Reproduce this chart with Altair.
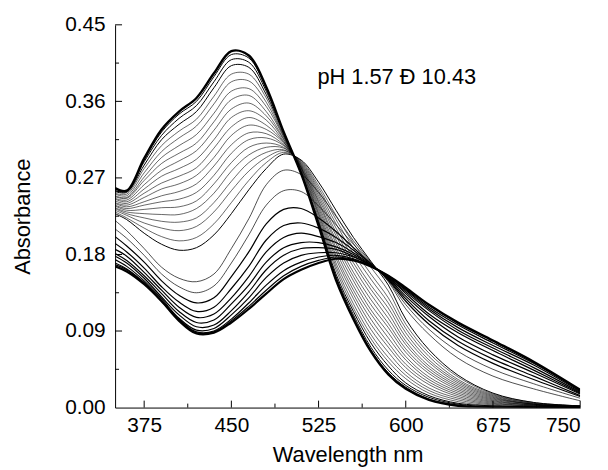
import altair as alt
import pandas as pd

# ---------------- data ----------------
WAVELENGTH = [350, 360, 375, 390, 405, 420, 435, 450, 465, 480, 495, 510,
              525, 540, 555, 570, 585, 600, 620, 645, 675, 710, 750]

# first transition (pH 1.57 ... intermediate)
PH_LOW = [0.258, 0.255, 0.293, 0.327, 0.348, 0.364, 0.393, 0.419, 0.414, 0.377, 0.324, 0.275, 0.214, 0.150, 0.104, 0.066, 0.039, 0.022, 0.009, 0.002, 0.000, 0.000, 0.000]
T01 = [0.255, 0.255, 0.291, 0.324, 0.345, 0.360, 0.389, 0.415, 0.411, 0.375, 0.324, 0.275, 0.215, 0.152, 0.106, 0.068, 0.041, 0.024, 0.010, 0.003, 0.000, 0.000, 0.000]
T02 = [0.255, 0.254, 0.289, 0.320, 0.340, 0.355, 0.383, 0.409, 0.406, 0.372, 0.323, 0.276, 0.217, 0.154, 0.109, 0.071, 0.044, 0.026, 0.012, 0.004, 0.001, 0.000, 0.000]
T03 = [0.254, 0.253, 0.285, 0.315, 0.333, 0.348, 0.376, 0.402, 0.400, 0.368, 0.322, 0.276, 0.219, 0.157, 0.113, 0.076, 0.049, 0.029, 0.014, 0.005, 0.002, 0.001, 0.000]
T04 = [0.252, 0.251, 0.281, 0.308, 0.325, 0.339, 0.366, 0.392, 0.392, 0.364, 0.320, 0.277, 0.221, 0.162, 0.117, 0.081, 0.054, 0.034, 0.017, 0.007, 0.002, 0.001, 0.000]
T05 = [0.251, 0.249, 0.276, 0.301, 0.317, 0.331, 0.357, 0.383, 0.384, 0.359, 0.319, 0.278, 0.224, 0.166, 0.122, 0.086, 0.059, 0.038, 0.020, 0.009, 0.003, 0.001, 0.000]
T06 = [0.249, 0.247, 0.271, 0.294, 0.308, 0.321, 0.346, 0.372, 0.375, 0.354, 0.318, 0.279, 0.227, 0.170, 0.128, 0.092, 0.065, 0.042, 0.023, 0.011, 0.004, 0.002, 0.001]
T07 = [0.248, 0.246, 0.267, 0.287, 0.299, 0.311, 0.336, 0.362, 0.367, 0.348, 0.316, 0.280, 0.229, 0.175, 0.133, 0.098, 0.071, 0.047, 0.027, 0.013, 0.005, 0.002, 0.001]
T08 = [0.246, 0.244, 0.262, 0.279, 0.290, 0.302, 0.326, 0.351, 0.358, 0.343, 0.315, 0.281, 0.232, 0.179, 0.138, 0.104, 0.076, 0.051, 0.030, 0.015, 0.006, 0.002, 0.001]
T09 = [0.245, 0.242, 0.257, 0.272, 0.281, 0.292, 0.315, 0.341, 0.349, 0.338, 0.313, 0.282, 0.235, 0.184, 0.143, 0.110, 0.082, 0.056, 0.033, 0.017, 0.007, 0.003, 0.001]
T10 = [0.243, 0.240, 0.252, 0.264, 0.272, 0.282, 0.305, 0.330, 0.341, 0.332, 0.312, 0.282, 0.238, 0.188, 0.149, 0.115, 0.088, 0.060, 0.036, 0.019, 0.008, 0.003, 0.001]
T11 = [0.241, 0.238, 0.247, 0.257, 0.263, 0.273, 0.294, 0.320, 0.332, 0.327, 0.311, 0.283, 0.241, 0.193, 0.154, 0.121, 0.094, 0.065, 0.040, 0.021, 0.009, 0.003, 0.001]
T12 = [0.240, 0.236, 0.242, 0.249, 0.254, 0.263, 0.284, 0.309, 0.323, 0.322, 0.309, 0.284, 0.243, 0.197, 0.159, 0.127, 0.099, 0.069, 0.043, 0.023, 0.010, 0.004, 0.001]
T13 = [0.238, 0.234, 0.238, 0.242, 0.245, 0.253, 0.273, 0.299, 0.315, 0.317, 0.308, 0.285, 0.246, 0.202, 0.165, 0.133, 0.105, 0.074, 0.046, 0.025, 0.011, 0.004, 0.001]
T14 = [0.237, 0.232, 0.233, 0.235, 0.236, 0.243, 0.263, 0.288, 0.306, 0.311, 0.306, 0.286, 0.249, 0.206, 0.170, 0.139, 0.111, 0.078, 0.049, 0.027, 0.012, 0.004, 0.001]
T15 = [0.235, 0.230, 0.228, 0.227, 0.227, 0.234, 0.252, 0.278, 0.297, 0.306, 0.305, 0.287, 0.252, 0.211, 0.175, 0.144, 0.117, 0.083, 0.053, 0.029, 0.013, 0.004, 0.002]
T16 = [0.234, 0.228, 0.223, 0.219, 0.218, 0.223, 0.241, 0.266, 0.288, 0.300, 0.303, 0.288, 0.255, 0.216, 0.181, 0.151, 0.123, 0.088, 0.056, 0.031, 0.014, 0.005, 0.002]
T17 = [0.232, 0.226, 0.217, 0.211, 0.208, 0.213, 0.230, 0.255, 0.278, 0.294, 0.302, 0.289, 0.258, 0.221, 0.187, 0.157, 0.129, 0.093, 0.060, 0.033, 0.015, 0.005, 0.002]
T18 = [0.230, 0.223, 0.211, 0.201, 0.196, 0.200, 0.216, 0.241, 0.267, 0.288, 0.300, 0.290, 0.261, 0.226, 0.193, 0.165, 0.137, 0.098, 0.064, 0.036, 0.016, 0.006, 0.002]
PH_MID = [0.228, 0.221, 0.205, 0.192, 0.185, 0.188, 0.203, 0.228, 0.256, 0.281, 0.298, 0.291, 0.265, 0.232, 0.200, 0.172, 0.144, 0.104, 0.068, 0.038, 0.017, 0.006, 0.002]

# second transition (intermediate ... pH 10.43)
U01 = [0.220, 0.208, 0.187, 0.165, 0.152, 0.148, 0.157, 0.187, 0.222, 0.262, 0.279, 0.274, 0.253, 0.225, 0.196, 0.171, 0.148, 0.116, 0.086, 0.058, 0.037, 0.022, 0.008]
U02 = [0.210, 0.199, 0.179, 0.157, 0.142, 0.135, 0.143, 0.170, 0.203, 0.238, 0.255, 0.254, 0.237, 0.215, 0.192, 0.170, 0.149, 0.121, 0.092, 0.066, 0.045, 0.028, 0.011]
U03 = [0.201, 0.190, 0.171, 0.149, 0.132, 0.123, 0.129, 0.154, 0.183, 0.216, 0.233, 0.234, 0.223, 0.207, 0.188, 0.169, 0.150, 0.125, 0.098, 0.073, 0.052, 0.033, 0.013]
U04 = [0.193, 0.183, 0.164, 0.142, 0.124, 0.113, 0.118, 0.140, 0.166, 0.197, 0.214, 0.217, 0.211, 0.200, 0.185, 0.169, 0.151, 0.128, 0.102, 0.078, 0.057, 0.037, 0.014]
U05 = [0.186, 0.178, 0.159, 0.138, 0.118, 0.106, 0.110, 0.129, 0.154, 0.183, 0.200, 0.205, 0.201, 0.194, 0.182, 0.168, 0.152, 0.131, 0.107, 0.083, 0.062, 0.041, 0.016]
U06 = [0.181, 0.173, 0.155, 0.134, 0.113, 0.100, 0.103, 0.122, 0.144, 0.171, 0.188, 0.194, 0.194, 0.189, 0.180, 0.167, 0.153, 0.134, 0.110, 0.088, 0.067, 0.044, 0.017]
U07 = [0.178, 0.170, 0.152, 0.130, 0.109, 0.095, 0.097, 0.114, 0.136, 0.162, 0.179, 0.187, 0.188, 0.186, 0.178, 0.167, 0.153, 0.136, 0.114, 0.091, 0.070, 0.047, 0.018]
U08 = [0.174, 0.166, 0.149, 0.128, 0.105, 0.091, 0.093, 0.109, 0.129, 0.153, 0.170, 0.179, 0.182, 0.182, 0.177, 0.167, 0.154, 0.138, 0.116, 0.094, 0.073, 0.050, 0.019]
U09 = [0.170, 0.163, 0.147, 0.126, 0.104, 0.089, 0.090, 0.104, 0.123, 0.144, 0.161, 0.171, 0.177, 0.179, 0.175, 0.166, 0.154, 0.139, 0.118, 0.097, 0.076, 0.052, 0.020]
U10 = [0.168, 0.162, 0.146, 0.125, 0.103, 0.088, 0.089, 0.102, 0.119, 0.138, 0.155, 0.166, 0.173, 0.177, 0.174, 0.166, 0.155, 0.140, 0.120, 0.099, 0.078, 0.053, 0.020]
PH_HIGH = [0.166, 0.160, 0.145, 0.125, 0.102, 0.087, 0.088, 0.100, 0.116, 0.134, 0.151, 0.162, 0.170, 0.175, 0.173, 0.166, 0.155, 0.141, 0.121, 0.100, 0.079, 0.054, 0.021]

X_TICKS = [375, 450, 525, 600, 675, 750]
X_MINOR = [412.5, 487.5, 562.5, 637.5, 712.5]
Y_TICKS = [0.00, 0.09, 0.18, 0.27, 0.36, 0.45]
Y_MINOR = [0.045, 0.135, 0.225, 0.315, 0.405]
NOTE = "pH 1.57 \u00d0 10.43"
NOTE_POS = (524, 0.380)

# ---------------- build table ----------------
spectra = [PH_LOW, T01, T02, T03, T04, T05, T06, T07, T08, T09, T10, T11, T12,
           T13, T14, T15, T16, T17, T18, PH_MID,
           U01, U02, U03, U04, U05, U06, U07, U08, U09, U10, PH_HIGH]


def width_for(i):
    n = len(spectra)
    if i == 0:
        return 2.4
    if i <= 3:
        return 1.0
    if i < 19:
        return 0.6
    if i == 19:
        return 1.0
    if i <= 21:
        return 0.7
    if i == n - 1:
        return 2.2
    return 1.2


rows = []
for i, s in enumerate(spectra):
    for w, a in zip(WAVELENGTH, s):
        rows.append({"wl": w, "abs": a, "curve": i, "sw": width_for(i)})
df = pd.DataFrame(rows)

FONT = "Liberation Sans"
W, H = 469, 386

xscale = alt.Scale(domain=[350, 750], nice=False, zero=False)
yscale = alt.Scale(domain=[0, 0.45], nice=False, zero=False)

lines = alt.Chart(df).mark_line(color="black", interpolate="catmull-rom", clip=True).encode(
    x=alt.X("wl:Q", scale=xscale,
            axis=alt.Axis(title="Wavelength nm", values=X_TICKS, ticks=False,
                          labelFontSize=21, labelFont=FONT, labelPadding=7,
                          titleFontSize=22, titleFont=FONT, titleFontWeight="normal",
                          titlePadding=9, domainColor="black", labelColor="black",
                          titleColor="black", grid=False)),
    y=alt.Y("abs:Q", scale=yscale,
            axis=alt.Axis(title="Absorbance", values=Y_TICKS, format=".2f", ticks=False,
                          labelFontSize=21, labelFont=FONT, labelPadding=10,
                          titleFontSize=22, titleFont=FONT, titleFontWeight="normal",
                          titlePadding=30, domainColor="black", labelColor="black",
                          titleColor="black", grid=False)),
    detail="curve:N",
    strokeWidth=alt.StrokeWidth("sw:Q", scale=None),
)

xt = pd.DataFrame({"t": X_TICKS + X_MINOR,
                   "major": [1] * len(X_TICKS) + [0] * len(X_MINOR)})
yt = pd.DataFrame({"t": Y_TICKS[1:] + Y_MINOR,
                   "major": [1] * (len(Y_TICKS) - 1) + [0] * len(Y_MINOR)})

xmaj = alt.Chart(xt[xt.major == 1]).mark_rule(color="black", strokeWidth=1).encode(
    x=alt.X("t:Q", scale=xscale), y=alt.value(H), y2=alt.value(H - 7))
xmin = alt.Chart(xt[xt.major == 0]).mark_rule(color="black", strokeWidth=1).encode(
    x=alt.X("t:Q", scale=xscale), y=alt.value(H), y2=alt.value(H - 4))
ymaj = alt.Chart(yt[yt.major == 1]).mark_rule(color="black", strokeWidth=1).encode(
    y=alt.Y("t:Q", scale=yscale), x=alt.value(0), x2=alt.value(7))
ymin = alt.Chart(yt[yt.major == 0]).mark_rule(color="black", strokeWidth=1).encode(
    y=alt.Y("t:Q", scale=yscale), x=alt.value(0), x2=alt.value(4))

note = alt.Chart(pd.DataFrame({"wl": [NOTE_POS[0]], "abs": [NOTE_POS[1]], "txt": [NOTE]})).mark_text(
    align="left", baseline="alphabetic", fontSize=22, font=FONT, color="black"
).encode(x=alt.X("wl:Q", scale=xscale), y=alt.Y("abs:Q", scale=yscale), text="txt:N")

chart = alt.layer(lines, xmaj, xmin, ymaj, ymin, note).properties(
    width=W, height=H,
    autosize=alt.AutoSizeParams(type="none"),
    padding={"left": 108, "top": 15, "right": 20, "bottom": 62},
).configure_view(stroke=None).configure_axis(domainWidth=1)

chart.save("out.html", embed_options={"renderer": "svg", "actions": False})
